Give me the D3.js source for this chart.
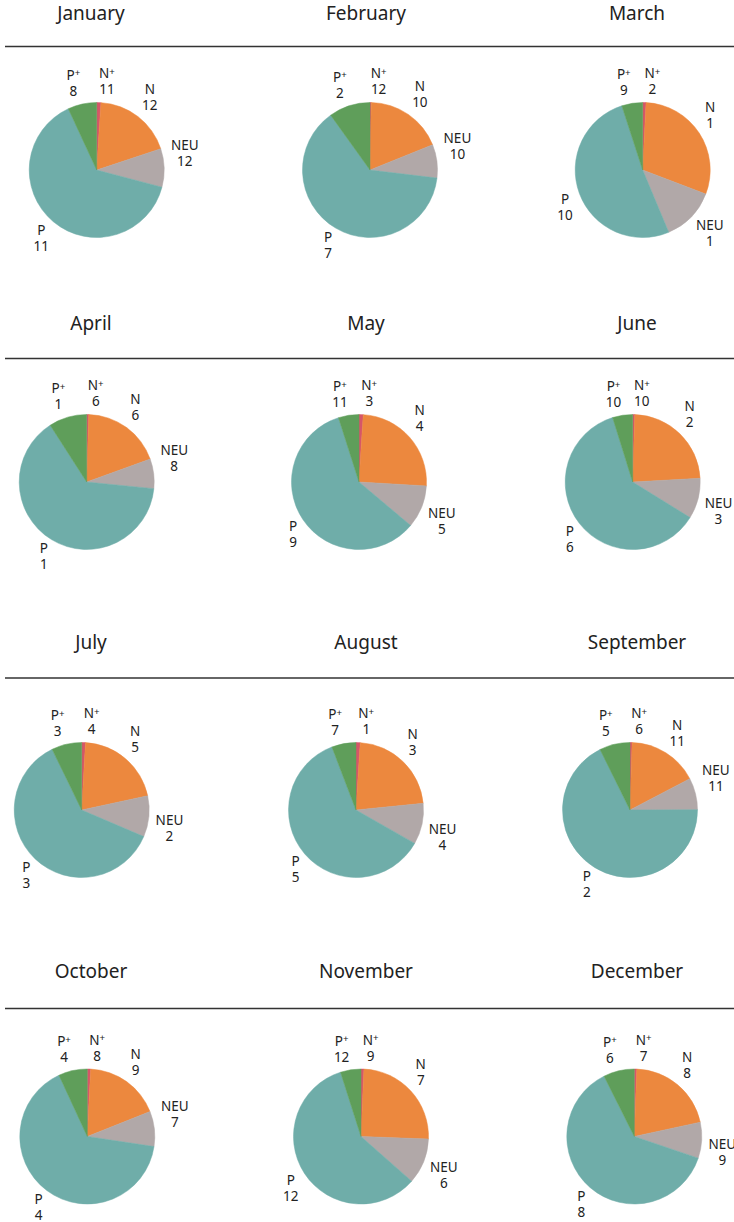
<!DOCTYPE html>
<html>
<head>
<meta charset="utf-8">
<script src="https://cdn.jsdelivr.net/npm/d3@7"></script>
<style>
  body { margin: 0; background: #fff; }
  svg { display: block; font-family: "Noto Sans", sans-serif; }
</style>
</head>
<body>
<div id="chart"></div>
<script>
// Months, one pie each
const months = ["January", "February", "March", "April", "May", "June",
    "July", "August", "September", "October", "November", "December"];

// Slice order (clockwise from 12 o'clock)
const categories = ["N+", "N", "NEU", "P", "P+"];
const categoryColors = ["#d65668", "#ec883e", "#b1a8a8", "#6fada9", "#5f9e5a"];

// Share of each category per month (%)
const nPlusShare = [1.0, 0.3, 0.8, 0.5, 1.0, 0.5, 0.9, 1.0, 0.5, 0.8, 0.7, 0.6];
const nShare     = [18.9, 18.6, 30.0, 19.0, 24.9, 23.6, 20.7, 22.4, 16.8, 18.2, 24.9, 21.0];
const neuShare   = [9.2, 8.0, 12.9, 7.1, 10.2, 9.7, 9.8, 9.8, 7.6, 8.4, 10.9, 8.6];
const pShare     = [64.0, 63.2, 51.3, 64.4, 58.9, 61.3, 61.3, 60.9, 67.7, 65.8, 58.6, 62.4];
const pPlusShare = [6.9, 9.9, 5.0, 9.1, 4.9, 4.8, 7.2, 5.8, 7.3, 6.9, 4.9, 7.4];

// Rank shown under each label
const nPlusRank = [11, 12, 2, 6, 3, 10, 4, 1, 6, 8, 9, 7];
const nRank     = [12, 10, 1, 6, 4, 2, 5, 3, 11, 9, 7, 8];
const neuRank   = [12, 10, 1, 8, 5, 3, 2, 4, 11, 7, 6, 9];
const pRank     = [11, 7, 10, 1, 9, 6, 3, 5, 2, 4, 12, 8];
const pPlusRank = [8, 2, 9, 1, 11, 10, 3, 7, 5, 4, 12, 6];

const shareSeries = [nPlusShare, nShare, neuShare, pShare, pPlusShare];
const rankSeries = [nPlusRank, nRank, neuRank, pRank, pPlusRank];

// Layout
const width = 734, height = 1222;
const radius = 67.5;
const labelFont = 13.5, lineH = 16;
const titleX = [91, 366, 637];
const rowTitleY = [20, 330, 649, 978];
const rowRuleY = [46.5, 358.5, 678, 1008.5];
const rowPieY = [170, 482, 810, 1136.5];
const rowPieX = [[96.7, 370, 642.7], [86.7, 359, 632.7], [81.7, 356, 630], [87.3, 361, 634.3]];

const color = d3.scaleOrdinal(categories, categoryColors);

const svg = d3.select("#chart")
    .append("svg")
    .attr("width", width)
    .attr("height", height);

const pie = d3.pie().sort(null).value(d => d.value);
const arc = d3.arc().innerRadius(0).outerRadius(radius);
const labelArc = d3.arc().innerRadius(radius * 1.1).outerRadius(radius * 1.1);

// One rule under each row of titles
rowRuleY.forEach(y => {
    svg.append("line")
        .attr("x1", 5).attr("x2", width)
        .attr("y1", y).attr("y2", y)
        .attr("stroke", "#333")
        .attr("stroke-width", 1.3);
});

months.forEach((m, i) => {
    const row = Math.floor(i / 3), col = i % 3;

    svg.append("text")
        .attr("x", titleX[col])
        .attr("y", rowTitleY[row])
        .attr("text-anchor", "middle")
        .attr("font-size", 19)
        .attr("fill", "#222")
        .text(m);

    const data = categories.map((c, k) => ({
        cat: c,
        value: shareSeries[k][i],
        rank: rankSeries[k][i]
    }));

    const g = svg.append("g")
        .attr("transform", `translate(${rowPieX[row][col]},${rowPieY[row]})`);

    const arcs = pie(data);

    g.selectAll("path")
        .data(arcs)
        .enter()
        .append("path")
        .attr("d", arc)
        .attr("fill", d => color(d.data.cat))
        .attr("stroke", d => color(d.data.cat))
        .attr("stroke-width", 0.5);

    // Labels: left/right aligned by side, above/below by half
    arcs.forEach(a => {
        const [lx, ly] = labelArc.centroid(a);
        const lg = g.append("g");
        const t = lg.append("text")
            .attr("font-size", labelFont)
            .attr("fill", "#222")
            .attr("text-anchor", "middle");
        const first = t.append("tspan").attr("x", 0).attr("y", 0);
        const name = a.data.cat;
        if (name.endsWith("+")) {
            first.append("tspan").text(name.slice(0, -1));
            first.append("tspan")
                .attr("font-size", labelFont * 0.72)
                .attr("dy", -3.5)
                .text("+");
        } else {
            first.text(name);
        }
        t.append("tspan").attr("x", 0).attr("y", lineH).text(a.data.rank);
        const bb = t.node().getBBox();
        const dx = lx > 0 ? lx - bb.x : lx - (bb.x + bb.width);
        const dy = ly < 0 ? ly - 1.5 - lineH : ly + labelFont * 0.6;
        lg.attr("transform", `translate(${dx},${dy})`);
    });
});
</script>
</body>
</html>
